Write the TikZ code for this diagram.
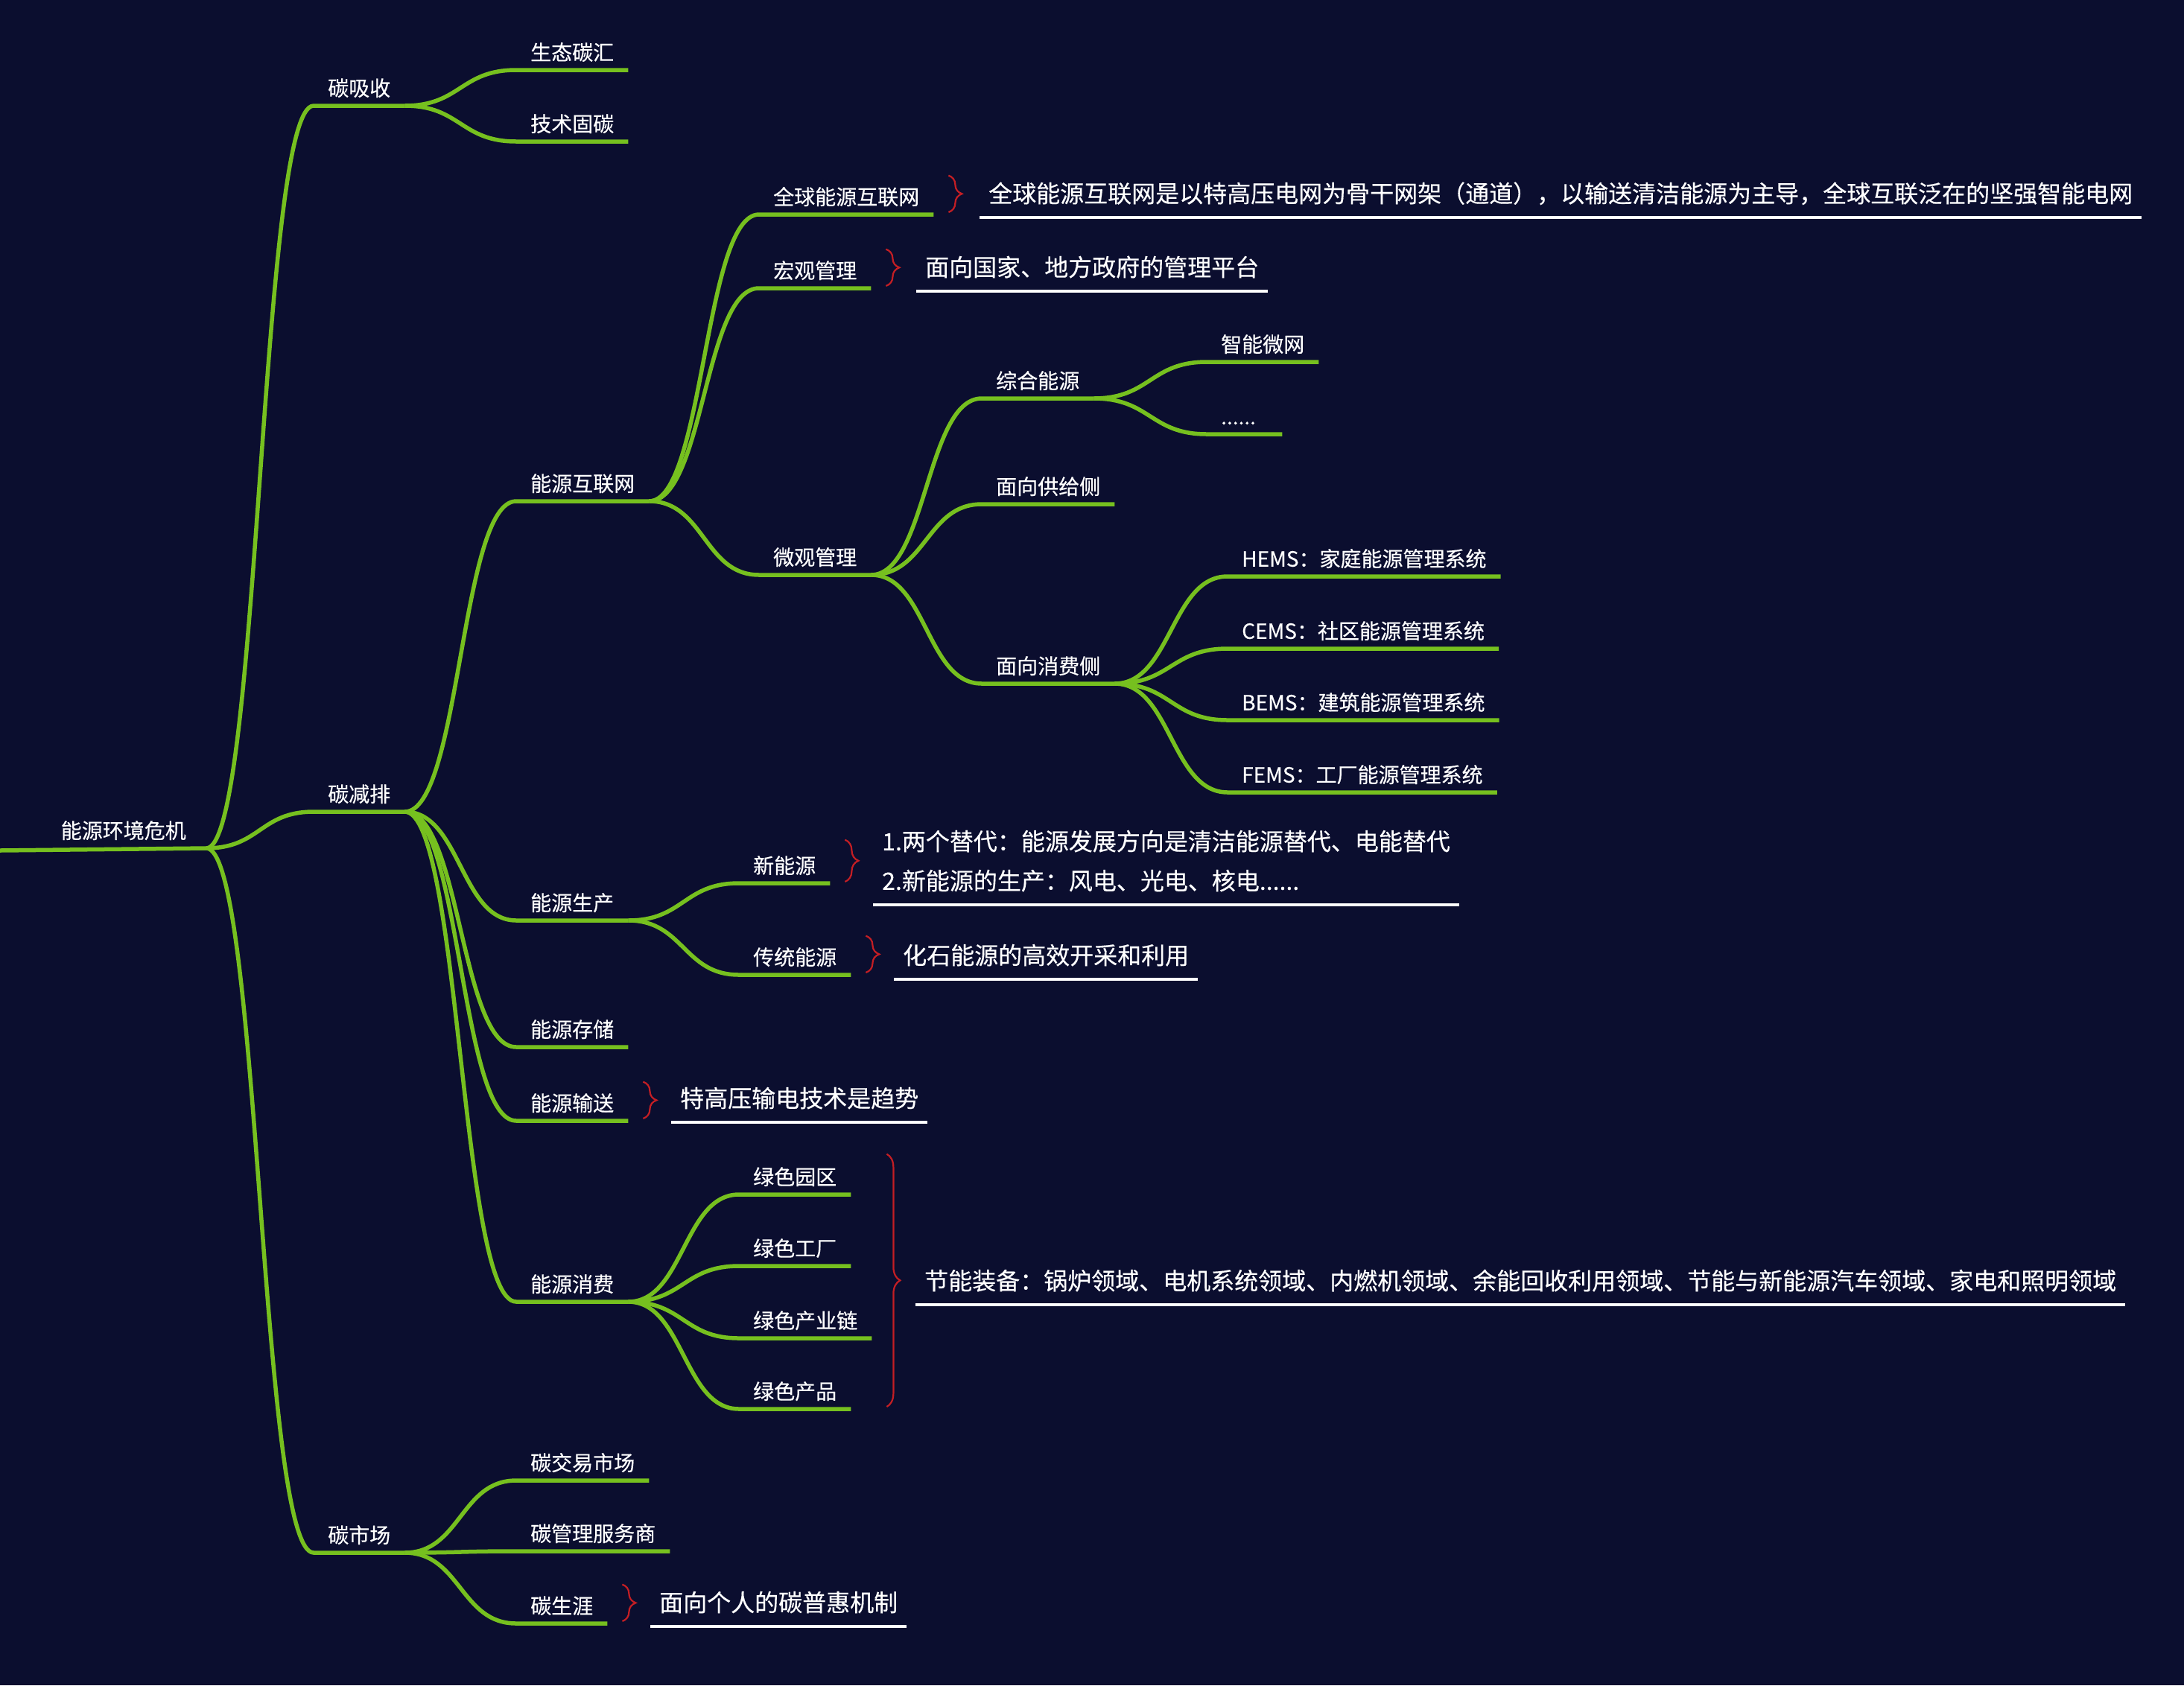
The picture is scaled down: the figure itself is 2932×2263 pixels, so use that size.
\documentclass[tikz,border=0pt]{standalone}
\usepackage{fontspec}
\setmainfont{Noto Sans CJK SC}[FakeBold=0.35]
\usetikzlibrary{positioning,calc,decorations.pathreplacing}
\definecolor{night}{RGB}{11,14,47}
\definecolor{leafgreen}{RGB}{118,192,31}
\definecolor{bracered}{RGB}{196,30,36}
\tikzset{topic/.style = {anchor=south west, text=white, font=\fontsize{28}{34}\selectfont,
    inner xsep=19pt, inner ysep=13pt, text height=22pt, text depth=0pt}}
\tikzset{remark/.style = {anchor=south west, text=white, font=\fontsize{32}{53}\selectfont,
    inner xsep=12pt, inner ysep=20pt, text depth=0pt, align=left}}
\tikzset{branch/.style = {draw=leafgreen, line width=5.5pt, line join=round}}
\tikzset{rule/.style = {draw=white, line width=4pt}}
\tikzset{curly/.style = {draw=bracered, line width=2.2pt, decorate, decoration={brace, amplitude=18pt}}}
% S-shaped twig from the end of one topic to the start of the next
\newcommand{\twig}[2]{\draw[branch] let \p1=(#1.south east), \p2=(#2.south west) in
    (\p1) .. controls ({0.5*\x1+0.5*\x2},\y1) and ({0.5*\x1+0.5*\x2},\y2) .. (\p2) -- (#2.south east);}

\begin{document}
\begin{tikzpicture}[x=1pt, y=-1pt]
  \fill[night] (0,0) rectangle (2932,2263);
  \useasboundingbox (0,0) rectangle (2932,2263);

  \node[topic, anchor=south east, inner xsep=27pt] (crisis) at (277,1139) {能源环境危机};
  \coordinate (rim) at (0,1142);

  \node[topic] (absorb) at (421,142) {碳吸收};
  \node[topic] (cut) at (421,1090) {碳减排};
  \node[topic] (market) at (421,2085) {碳市场};

  \node[topic] (sink) at (693,94) {生态碳汇};
  \node[topic] (capture) at (693,190) {技术固碳};
  \node[topic] (grid) at (693,673) {能源互联网};
  \node[topic] (produce) at (693,1236) {能源生产};
  \node[topic] (store) at (693,1406) {能源存储};
  \node[topic] (transmit) at (693,1505) {能源输送};
  \node[topic] (consume) at (693,1748) {能源消费};
  \node[topic] (trade) at (693,1988) {碳交易市场};
  \node[topic] (service) at (693,2083) {碳管理服务商};
  \node[topic] (career) at (693,2180) {碳生涯};

  \node[topic] (global) at (1019,288) {全球能源互联网};
  \node[topic] (macro) at (1019,387) {宏观管理};
  \node[topic] (micro) at (1019,772) {微观管理};
  \node[topic] (renew) at (992,1186) {新能源};
  \node[topic] (fossil) at (992,1309) {传统能源};
  \node[topic] (park) at (992,1604) {绿色园区};
  \node[topic] (factory) at (992,1700) {绿色工厂};
  \node[topic] (chain) at (992,1797) {绿色产业链};
  \node[topic] (goods) at (992,1892) {绿色产品};

  \node[topic] (integ) at (1318,535) {综合能源};
  \node[topic] (supply) at (1318,677) {面向供给侧};
  \node[topic] (demand) at (1318,918) {面向消费侧};

  \node[topic] (smart) at (1620,486) {智能微网};
  \node[topic, text width=63pt, align=left] (more) at (1620,583) {......};
  \node[topic] (hems) at (1648,774) {HEMS：家庭能源管理系统};
  \node[topic] (cems) at (1648,871) {CEMS：社区能源管理系统};
  \node[topic] (bems) at (1648,967) {BEMS：建筑能源管理系统};
  \node[topic] (fems) at (1648,1064) {FEMS：工厂能源管理系统};

  % notes
  \node[remark] (globalnote) at (1315,292) {全球能源互联网是以特高压电网为骨干网架（通道），以输送清洁能源为主导，全球互联泛在的坚强智能电网};
  \node[remark] (macronote) at (1230,391) {面向国家、地方政府的管理平台};
  \node[remark] (renewnote) at (1172,1215) {1.两个替代：能源发展方向是清洁能源替代、电能替代\\2.新能源的生产：风电、光电、核电......};
  \node[remark] (fossilnote) at (1200,1315) {化石能源的高效开采和利用};
  \node[remark] (transnote) at (901,1507) {特高压输电技术是趋势};
  \node[remark] (savenote) at (1229,1752) {节能装备：锅炉领域、电机系统领域、内燃机领域、余能回收利用领域、节能与新能源汽车领域、家电和照明领域};
  \node[remark] (careernote) at (873,2184) {面向个人的碳普惠机制};

  \draw[branch] (rim) -- (crisis.south east);
  \twig{crisis}{absorb}
  \twig{crisis}{cut}
  \twig{crisis}{market}
  \twig{absorb}{sink}
  \twig{absorb}{capture}
  \twig{cut}{grid}
  \twig{cut}{produce}
  \twig{cut}{store}
  \twig{cut}{transmit}
  \twig{cut}{consume}
  \twig{market}{trade}
  \twig{market}{service}
  \twig{market}{career}
  \twig{grid}{global}
  \twig{grid}{macro}
  \twig{grid}{micro}
  \twig{micro}{integ}
  \twig{micro}{supply}
  \twig{micro}{demand}
  \twig{integ}{smart}
  \twig{integ}{more}
  \twig{demand}{hems}
  \twig{demand}{cems}
  \twig{demand}{bems}
  \twig{demand}{fems}
  \twig{produce}{renew}
  \twig{produce}{fossil}
  \twig{consume}{park}
  \twig{consume}{factory}
  \twig{consume}{chain}
  \twig{consume}{goods}

  \draw[rule] (globalnote.south west) -- (globalnote.south east);
  \draw[rule] (macronote.south west) -- (macronote.south east);
  \draw[rule] (renewnote.south west) -- (renewnote.south east);
  \draw[rule] (fossilnote.south west) -- (fossilnote.south east);
  \draw[rule] (transnote.south west) -- (transnote.south east);
  \draw[rule] (savenote.south west) -- (savenote.south east);
  \draw[rule] (careernote.south west) -- (careernote.south east);

  \draw[curly] ($(global.north east)+(20,-4)$) -- ($(global.south east)+(20,-3)$);
  \draw[curly] ($(macro.north east)+(20,-4)$) -- ($(macro.south east)+(20,-3)$);
  \draw[curly] ($(renew.north east)+(20,-10)$) -- ($(renew.south east)+(20,-2)$);
  \draw[curly] ($(fossil.north east)+(20,-4)$) -- ($(fossil.south east)+(20,-3)$);
  \draw[curly] ($(transmit.north east)+(20,-4)$) -- ($(transmit.south east)+(20,-3)$);
  \draw[curly] ($(career.north east)+(20,-4)$) -- ($(career.south east)+(20,-3)$);
  \draw[curly] ($(chain.east |- park.north)+(20,-6)$) -- ($(chain.east |- goods.south)+(20,-3)$);
\end{tikzpicture}
\end{document}
